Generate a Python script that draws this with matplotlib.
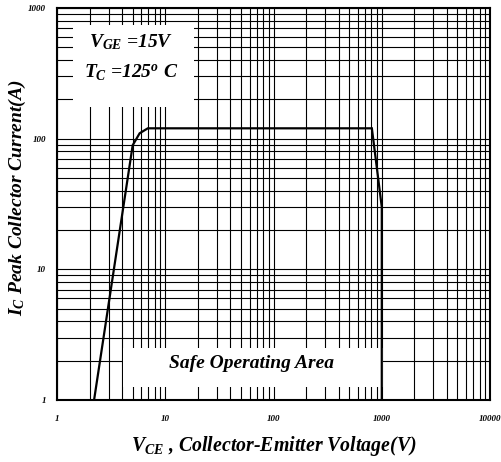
import matplotlib.pyplot as plt
from matplotlib.patches import Rectangle
from matplotlib.ticker import FixedLocator, FixedFormatter, NullFormatter

# data
vce = [2.2, 5.0, 5.8, 6.9, 810, 1000, 1000]
ic = [1, 89, 110, 120, 120, 30, 1]
x_ticks = [1, 10, 100, 1000, 10000]
x_labels = ['1', '10', '100', '1000', '10000']
y_ticks = [1, 10, 100, 1000]
y_labels = ['1', '10', '100', '1000']

plt.rcParams['font.family'] = 'Liberation Serif'
plt.rcParams['mathtext.fontset'] = 'custom'
plt.rcParams['mathtext.rm'] = 'Liberation Serif:bold:italic'
plt.rcParams['mathtext.it'] = 'Liberation Serif:bold:italic'
plt.rcParams['mathtext.bf'] = 'Liberation Serif:bold:italic'

fig = plt.figure(figsize=(5.01, 4.62), dpi=100)
ax = fig.add_axes([0.1138, 0.1342, 0.8643, 0.8485])

ax.set_xscale('log')
ax.set_yscale('log')
ax.set_xlim(1, 10000)
ax.set_ylim(1, 1000)

ax.grid(True, which='both', color='black', linewidth=0.8, zorder=1)
ax.set_axisbelow(True)

# white boxes covering the grid
ax.add_patch(Rectangle((0.037, 0.747), 0.279, 0.21, transform=ax.transAxes,
                       facecolor='white', edgecolor='none', zorder=2))
ax.add_patch(Rectangle((0.152, 0.033), 0.601, 0.10, transform=ax.transAxes,
                       facecolor='white', edgecolor='none', zorder=2))

ax.plot(vce, ic, color='black', linewidth=1.6, zorder=5, solid_joinstyle='miter')

ax.text(0.17, 0.913, r'$V_{GE}$ =15V', transform=ax.transAxes, ha='center', va='center',
        fontsize=14, fontweight='bold', style='italic', zorder=3)
ax.text(0.17, 0.834, r'$T_{C}$ =125$^{o}$ C', transform=ax.transAxes, ha='center', va='center',
        fontsize=14, fontweight='bold', style='italic', zorder=3)
ax.text(0.448, 0.094, 'Safe Operating Area', transform=ax.transAxes, ha='center', va='center',
        fontsize=14, fontweight='bold', style='italic', zorder=3)

ax.xaxis.set_major_locator(FixedLocator(x_ticks))
ax.xaxis.set_major_formatter(FixedFormatter(x_labels))
ax.xaxis.set_minor_formatter(NullFormatter())
ax.yaxis.set_major_locator(FixedLocator(y_ticks))
ax.yaxis.set_major_formatter(FixedFormatter(y_labels))
ax.yaxis.set_minor_formatter(NullFormatter())
ax.tick_params(which='both', length=0)
ax.tick_params(axis='x', pad=11)
ax.tick_params(axis='y', pad=8)
for lab in ax.get_xticklabels() + ax.get_yticklabels():
    lab.set_fontsize(6.5)
    lab.set_fontweight('bold')
    lab.set_style('italic')

for s in ax.spines.values():
    s.set_linewidth(1.5)
    s.set_zorder(6)

fig.text(0.547, 0.035, r'$V_{CE}$ , Collector-Emitter Voltage(V)', ha='center', va='center',
         fontsize=14.3, fontweight='bold', style='italic')
fig.text(0.035, 0.571, r'$I_{C}$ Peak Collector Current(A)', ha='center', va='center',
         rotation=90, fontsize=14, fontweight='bold', style='italic')

plt.savefig('out.png', dpi=100)
